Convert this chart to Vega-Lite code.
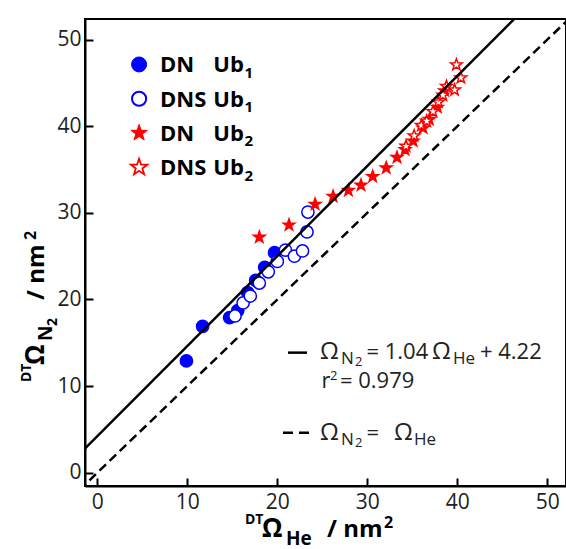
{
  "$schema": "https://vega.github.io/schema/vega-lite/v6.json",
  "width": 481,
  "height": 467,
  "autosize": {"type": "none"},
  "padding": {"left": 85, "top": 19, "right": 0, "bottom": 63},
  "background": "white",
  "config": {
    "view": {"stroke": "black", "strokeWidth": 2},
    "axis": {
      "domainColor": "black",
      "domainWidth": 2,
      "tickColor": "black",
      "tickWidth": 2,
      "tickSize": -8,
      "labelFont": "Open Sans",
      "labelFontSize": 21,
      "labelColor": "#222",
      "grid": false
    },
    "axisX": {"labelPadding": 13},
    "axisY": {"labelPadding": 12}
  },
  "layer": [
    {
      "data": {
        "values": [
          {"series": "DN Ub1", "he": 9.9, "n2": 12.9},
          {"series": "DN Ub1", "he": 11.7, "n2": 16.9},
          {"series": "DN Ub1", "he": 14.7, "n2": 17.9},
          {"series": "DN Ub1", "he": 15.6, "n2": 18.7},
          {"series": "DN Ub1", "he": 16.7, "n2": 20.8},
          {"series": "DN Ub1", "he": 17.6, "n2": 22.2},
          {"series": "DN Ub1", "he": 18.6, "n2": 23.7},
          {"series": "DN Ub1", "he": 19.7, "n2": 25.4},
          {"series": "DNS Ub1", "he": 15.3, "n2": 18.1},
          {"series": "DNS Ub1", "he": 16.2, "n2": 19.6},
          {"series": "DNS Ub1", "he": 17.0, "n2": 20.4},
          {"series": "DNS Ub1", "he": 18.0, "n2": 21.9},
          {"series": "DNS Ub1", "he": 19.0, "n2": 23.2},
          {"series": "DNS Ub1", "he": 20.0, "n2": 24.4},
          {"series": "DNS Ub1", "he": 20.9, "n2": 25.7},
          {"series": "DNS Ub1", "he": 21.9, "n2": 25.0},
          {"series": "DNS Ub1", "he": 22.8, "n2": 25.6},
          {"series": "DNS Ub1", "he": 23.3, "n2": 27.8},
          {"series": "DNS Ub1", "he": 23.4, "n2": 30.1},
          {"series": "DN Ub2", "he": 18.0, "n2": 27.2},
          {"series": "DN Ub2", "he": 21.3, "n2": 28.6},
          {"series": "DN Ub2", "he": 24.2, "n2": 31.0},
          {"series": "DN Ub2", "he": 26.2, "n2": 31.9},
          {"series": "DN Ub2", "he": 27.9, "n2": 32.6},
          {"series": "DN Ub2", "he": 29.3, "n2": 33.2},
          {"series": "DN Ub2", "he": 30.6, "n2": 34.2},
          {"series": "DN Ub2", "he": 32.1, "n2": 35.2},
          {"series": "DN Ub2", "he": 33.3, "n2": 36.4},
          {"series": "DN Ub2", "he": 34.2, "n2": 37.3},
          {"series": "DN Ub2", "he": 35.1, "n2": 38.3},
          {"series": "DN Ub2", "he": 36.2, "n2": 39.8},
          {"series": "DN Ub2", "he": 36.9, "n2": 40.8},
          {"series": "DN Ub2", "he": 37.8, "n2": 42.2},
          {"series": "DN Ub2", "he": 38.6, "n2": 44.1},
          {"series": "DNS Ub2", "he": 34.3, "n2": 37.7},
          {"series": "DNS Ub2", "he": 35.2, "n2": 38.9},
          {"series": "DNS Ub2", "he": 36.0, "n2": 40.1},
          {"series": "DNS Ub2", "he": 36.6, "n2": 40.6},
          {"series": "DNS Ub2", "he": 37.3, "n2": 41.7},
          {"series": "DNS Ub2", "he": 37.9, "n2": 42.8},
          {"series": "DNS Ub2", "he": 38.4, "n2": 43.6},
          {"series": "DNS Ub2", "he": 38.8, "n2": 44.6},
          {"series": "DNS Ub2", "he": 39.7, "n2": 44.2},
          {"series": "DNS Ub2", "he": 40.4, "n2": 45.6},
          {"series": "DNS Ub2", "he": 39.9, "n2": 47.1}
        ]
      },
      "mark": {"type": "point", "filled": true, "opacity": 1, "strokeWidth": 1.5},
      "encoding": {
        "x": {"field": "he", "type": "quantitative", "title": null, "scale": {"domain": [-1.37, 52.08], "nice": false, "zero": false}, "axis": {"values": [0, 10, 20, 30, 40, 50], "title": null}},
        "y": {"field": "n2", "type": "quantitative", "title": null, "scale": {"domain": [-1.54, 52.39], "nice": false, "zero": false}, "axis": {"values": [0, 10, 20, 30, 40, 50], "title": null}},
        "shape": {"field": "series", "type": "nominal", "legend": null, "scale": {"domain": ["DN Ub1", "DNS Ub1", "DN Ub2", "DNS Ub2"], "range": ["circle", "circle", "M0,-1L0.235,-0.324L0.951,-0.309L0.38,0.124L0.588,0.809L0,0.4L-0.588,0.809L-0.38,0.124L-0.951,-0.309L-0.235,-0.324Z", "M0,-1L0.235,-0.324L0.951,-0.309L0.38,0.124L0.588,0.809L0,0.4L-0.588,0.809L-0.38,0.124L-0.951,-0.309L-0.235,-0.324Z"]}},
        "fill": {"field": "series", "type": "nominal", "legend": null, "scale": {"domain": ["DN Ub1", "DNS Ub1", "DN Ub2", "DNS Ub2"], "range": ["#0000ff", "#ffffff", "#ff0000", "#ffffff"]}},
        "stroke": {"field": "series", "type": "nominal", "legend": null, "scale": {"domain": ["DN Ub1", "DNS Ub1", "DN Ub2", "DNS Ub2"], "range": ["#0000ff", "#0000ff", "#ff0000", "#ff0000"]}},
        "size": {"field": "series", "type": "nominal", "legend": null, "scale": {"domain": ["DN Ub1", "DNS Ub1", "DN Ub2", "DNS Ub2"], "range": [150, 150, 260, 260]}}
      }
    },
    {
      "data": {"values": [{"he": -2, "n2": 2.14}, {"he": 52, "n2": 58.3}]},
      "mark": {"type": "line", "color": "black", "strokeWidth": 2.5, "clip": true},
      "encoding": {
        "x": {"field": "he", "type": "quantitative", "title": null},
        "y": {"field": "n2", "type": "quantitative", "title": null}
      }
    },
    {
      "data": {"values": [{"he": -2, "n2": -2}, {"he": 53, "n2": 53}]},
      "mark": {"type": "line", "color": "black", "strokeWidth": 2.5, "strokeDash": [9, 5], "clip": true},
      "encoding": {
        "x": {"field": "he", "type": "quantitative", "title": null},
        "y": {"field": "n2", "type": "quantitative", "title": null}
      }
    },
    {
      "data": {"values": [{}]},
      "mark": {"type": "point", "shape": "circle", "filled": true, "fill": "#0000ff", "stroke": "#0000ff", "strokeWidth": 1, "size": 225, "opacity": 1},
      "encoding": {"x": {"datum": 4.64, "type": "quantitative"}, "y": {"datum": 47.14, "type": "quantitative"}}
    },
    {
      "data": {"values": [{}]},
      "mark": {"type": "point", "shape": "circle", "filled": true, "fill": "#ffffff", "stroke": "#0000ff", "strokeWidth": 2, "size": 200, "opacity": 1},
      "encoding": {"x": {"datum": 4.64, "type": "quantitative"}, "y": {"datum": 43.18, "type": "quantitative"}}
    },
    {
      "data": {"values": [{}]},
      "mark": {"type": "point", "shape": "M0,-1L0.235,-0.324L0.951,-0.309L0.38,0.124L0.588,0.809L0,0.4L-0.588,0.809L-0.38,0.124L-0.951,-0.309L-0.235,-0.324Z", "filled": true, "fill": "#ff0000", "stroke": "#ff0000", "strokeWidth": 1, "size": 300, "opacity": 1},
      "encoding": {"x": {"datum": 4.64, "type": "quantitative"}, "y": {"datum": 39.22, "type": "quantitative"}}
    },
    {
      "data": {"values": [{}]},
      "mark": {"type": "point", "shape": "M0,-1L0.235,-0.324L0.951,-0.309L0.38,0.124L0.588,0.809L0,0.4L-0.588,0.809L-0.38,0.124L-0.951,-0.309L-0.235,-0.324Z", "filled": true, "fill": "#ffffff", "stroke": "#ff0000", "strokeWidth": 1.8, "size": 300, "opacity": 1},
      "encoding": {"x": {"datum": 4.64, "type": "quantitative"}, "y": {"datum": 35.26, "type": "quantitative"}}
    },
    {
      "data": {"values": [{}]},
      "mark": {"type": "text", "text": ["DN", "DNS", "DN", "DNS"], "lineHeight": 34.3, "font": "Open Sans", "fontWeight": "bold", "fontSize": 22, "align": "left", "baseline": "alphabetic", "color": "black"},
      "encoding": {"x": {"datum": 6.97, "type": "quantitative"}, "y": {"datum": 46.24, "type": "quantitative"}}
    },
    {
      "data": {"values": [{}]},
      "mark": {"type": "text", "text": ["Ub", "Ub", "Ub", "Ub"], "lineHeight": 34.3, "font": "Open Sans", "fontWeight": "bold", "fontSize": 22, "align": "left", "baseline": "alphabetic", "dx": 53.3, "color": "black"},
      "encoding": {"x": {"datum": 6.97, "type": "quantitative"}, "y": {"datum": 46.24, "type": "quantitative"}}
    },
    {
      "data": {"values": [{}]},
      "mark": {"type": "text", "text": ["1", "1", "2", "2"], "lineHeight": 34.3, "font": "Open Sans", "fontWeight": "bold", "fontSize": 15, "align": "left", "baseline": "alphabetic", "dx": 84.5, "dy": 5.4, "color": "black"},
      "encoding": {"x": {"datum": 6.97, "type": "quantitative"}, "y": {"datum": 46.24, "type": "quantitative"}}
    },
    {
      "data": {"values": [{}]},
      "mark": {"type": "rule", "color": "black", "strokeWidth": 2.5},
      "encoding": {"x": {"datum": 21.19, "type": "quantitative"}, "x2": {"datum": 23.3}, "y": {"datum": 13.86, "type": "quantitative"}}
    },
    {
      "data": {"values": [{}]},
      "mark": {"type": "rule", "color": "black", "strokeWidth": 2.5, "strokeDash": [10, 6]},
      "encoding": {"x": {"datum": 20.63, "type": "quantitative"}, "x2": {"datum": 23.85}, "y": {"datum": 4.62, "type": "quantitative"}}
    },
    {"data": {"values": [{}]}, "mark": {"type": "text", "text": "Ω", "font": "Open Sans", "fontSize": 24, "align": "left", "baseline": "alphabetic", "dx": 0, "dy": 0, "color": "#222"}, "encoding": {"x": {"datum": 24.74, "type": "quantitative"}, "y": {"datum": 13.13, "type": "quantitative"}}},
    {"data": {"values": [{}]}, "mark": {"type": "text", "text": "N", "font": "Open Sans", "fontSize": 17, "align": "left", "baseline": "alphabetic", "dx": 21, "dy": 5, "color": "#222"}, "encoding": {"x": {"datum": 24.74, "type": "quantitative"}, "y": {"datum": 13.13, "type": "quantitative"}}},
    {"data": {"values": [{}]}, "mark": {"type": "text", "text": "2", "font": "Open Sans", "fontSize": 13, "align": "left", "baseline": "alphabetic", "dx": 35, "dy": 7, "color": "#222"}, "encoding": {"x": {"datum": 24.74, "type": "quantitative"}, "y": {"datum": 13.13, "type": "quantitative"}}},
    {"data": {"values": [{}]}, "mark": {"type": "text", "text": "= 1.04", "font": "Open Sans", "fontSize": 22, "align": "left", "baseline": "alphabetic", "dx": 46.5, "dy": 0, "color": "#222"}, "encoding": {"x": {"datum": 24.74, "type": "quantitative"}, "y": {"datum": 13.13, "type": "quantitative"}}},
    {"data": {"values": [{}]}, "mark": {"type": "text", "text": "Ω", "font": "Open Sans", "fontSize": 24, "align": "left", "baseline": "alphabetic", "dx": 112, "dy": 0, "color": "#222"}, "encoding": {"x": {"datum": 24.74, "type": "quantitative"}, "y": {"datum": 13.13, "type": "quantitative"}}},
    {"data": {"values": [{}]}, "mark": {"type": "text", "text": "He", "font": "Open Sans", "fontSize": 17, "align": "left", "baseline": "alphabetic", "dx": 133, "dy": 5, "color": "#222"}, "encoding": {"x": {"datum": 24.74, "type": "quantitative"}, "y": {"datum": 13.13, "type": "quantitative"}}},
    {"data": {"values": [{}]}, "mark": {"type": "text", "text": "+ 4.22", "font": "Open Sans", "fontSize": 22, "align": "left", "baseline": "alphabetic", "dx": 160, "dy": 0, "color": "#222"}, "encoding": {"x": {"datum": 24.74, "type": "quantitative"}, "y": {"datum": 13.13, "type": "quantitative"}}},
    {"data": {"values": [{}]}, "mark": {"type": "text", "text": "r", "font": "Open Sans", "fontSize": 22, "align": "left", "baseline": "alphabetic", "dx": 1.5, "dy": 0, "color": "#222"}, "encoding": {"x": {"datum": 24.74, "type": "quantitative"}, "y": {"datum": 9.78, "type": "quantitative"}}},
    {"data": {"values": [{}]}, "mark": {"type": "text", "text": "2", "font": "Open Sans", "fontSize": 13, "align": "left", "baseline": "alphabetic", "dx": 10, "dy": -8, "color": "#222"}, "encoding": {"x": {"datum": 24.74, "type": "quantitative"}, "y": {"datum": 9.78, "type": "quantitative"}}},
    {"data": {"values": [{}]}, "mark": {"type": "text", "text": "= 0.979", "font": "Open Sans", "fontSize": 22, "align": "left", "baseline": "alphabetic", "dx": 20, "dy": 0, "color": "#222"}, "encoding": {"x": {"datum": 24.74, "type": "quantitative"}, "y": {"datum": 9.78, "type": "quantitative"}}},
    {"data": {"values": [{}]}, "mark": {"type": "text", "text": "Ω", "font": "Open Sans", "fontSize": 24, "align": "left", "baseline": "alphabetic", "dx": 0, "dy": 0, "color": "#222"}, "encoding": {"x": {"datum": 24.74, "type": "quantitative"}, "y": {"datum": 3.78, "type": "quantitative"}}},
    {"data": {"values": [{}]}, "mark": {"type": "text", "text": "N", "font": "Open Sans", "fontSize": 17, "align": "left", "baseline": "alphabetic", "dx": 21, "dy": 5, "color": "#222"}, "encoding": {"x": {"datum": 24.74, "type": "quantitative"}, "y": {"datum": 3.78, "type": "quantitative"}}},
    {"data": {"values": [{}]}, "mark": {"type": "text", "text": "2", "font": "Open Sans", "fontSize": 13, "align": "left", "baseline": "alphabetic", "dx": 35, "dy": 7, "color": "#222"}, "encoding": {"x": {"datum": 24.74, "type": "quantitative"}, "y": {"datum": 3.78, "type": "quantitative"}}},
    {"data": {"values": [{}]}, "mark": {"type": "text", "text": "=", "font": "Open Sans", "fontSize": 22, "align": "left", "baseline": "alphabetic", "dx": 46.5, "dy": 0, "color": "#222"}, "encoding": {"x": {"datum": 24.74, "type": "quantitative"}, "y": {"datum": 3.78, "type": "quantitative"}}},
    {"data": {"values": [{}]}, "mark": {"type": "text", "text": "Ω", "font": "Open Sans", "fontSize": 24, "align": "left", "baseline": "alphabetic", "dx": 74, "dy": 0, "color": "#222"}, "encoding": {"x": {"datum": 24.74, "type": "quantitative"}, "y": {"datum": 3.78, "type": "quantitative"}}},
    {"data": {"values": [{}]}, "mark": {"type": "text", "text": "He", "font": "Open Sans", "fontSize": 17, "align": "left", "baseline": "alphabetic", "dx": 94, "dy": 5, "color": "#222"}, "encoding": {"x": {"datum": 24.74, "type": "quantitative"}, "y": {"datum": 3.78, "type": "quantitative"}}},
    {"data": {"values": [{}]}, "mark": {"type": "text", "text": "DT", "font": "Open Sans", "fontWeight": "bold", "fontSize": 14, "align": "left", "baseline": "alphabetic", "dx": 0, "dy": 38, "color": "black"}, "encoding": {"x": {"datum": 16.41, "type": "quantitative"}, "y": {"datum": -1.54, "type": "quantitative"}}},
    {"data": {"values": [{}]}, "mark": {"type": "text", "text": "Ω", "font": "Open Sans", "fontWeight": "bold", "fontSize": 26, "align": "left", "baseline": "alphabetic", "dx": 17, "dy": 50.7, "color": "black"}, "encoding": {"x": {"datum": 16.41, "type": "quantitative"}, "y": {"datum": -1.54, "type": "quantitative"}}},
    {"data": {"values": [{}]}, "mark": {"type": "text", "text": "He", "font": "Open Sans", "fontWeight": "bold", "fontSize": 19, "align": "left", "baseline": "alphabetic", "dx": 41, "dy": 59, "color": "black"}, "encoding": {"x": {"datum": 16.41, "type": "quantitative"}, "y": {"datum": -1.54, "type": "quantitative"}}},
    {"data": {"values": [{}]}, "mark": {"type": "text", "text": "/ nm", "font": "Open Sans", "fontWeight": "bold", "fontSize": 24, "align": "left", "baseline": "alphabetic", "dx": 82, "dy": 50.7, "color": "black"}, "encoding": {"x": {"datum": 16.41, "type": "quantitative"}, "y": {"datum": -1.54, "type": "quantitative"}}},
    {"data": {"values": [{}]}, "mark": {"type": "text", "text": "2", "font": "Open Sans", "fontWeight": "bold", "fontSize": 16, "align": "left", "baseline": "alphabetic", "dx": 139, "dy": 42.3, "color": "black"}, "encoding": {"x": {"datum": 16.41, "type": "quantitative"}, "y": {"datum": -1.54, "type": "quantitative"}}},
    {"data": {"values": [{}]}, "mark": {"type": "text", "text": "DT", "font": "Open Sans", "fontWeight": "bold", "fontSize": 14, "align": "left", "baseline": "alphabetic", "angle": 270, "dx": 0, "dy": -54, "color": "black"}, "encoding": {"x": {"datum": -1.37, "type": "quantitative"}, "y": {"datum": 10.47, "type": "quantitative"}}},
    {"data": {"values": [{}]}, "mark": {"type": "text", "text": "Ω", "font": "Open Sans", "fontWeight": "bold", "fontSize": 26, "align": "left", "baseline": "alphabetic", "angle": 270, "dx": 17, "dy": -41, "color": "black"}, "encoding": {"x": {"datum": -1.37, "type": "quantitative"}, "y": {"datum": 10.47, "type": "quantitative"}}},
    {"data": {"values": [{}]}, "mark": {"type": "text", "text": "N", "font": "Open Sans", "fontWeight": "bold", "fontSize": 19, "align": "left", "baseline": "alphabetic", "angle": 270, "dx": 41, "dy": -33, "color": "black"}, "encoding": {"x": {"datum": -1.37, "type": "quantitative"}, "y": {"datum": 10.47, "type": "quantitative"}}},
    {"data": {"values": [{}]}, "mark": {"type": "text", "text": "2", "font": "Open Sans", "fontWeight": "bold", "fontSize": 14, "align": "left", "baseline": "alphabetic", "angle": 270, "dx": 56, "dy": -28, "color": "black"}, "encoding": {"x": {"datum": -1.37, "type": "quantitative"}, "y": {"datum": 10.47, "type": "quantitative"}}},
    {"data": {"values": [{}]}, "mark": {"type": "text", "text": "/ nm", "font": "Open Sans", "fontWeight": "bold", "fontSize": 24, "align": "left", "baseline": "alphabetic", "angle": 270, "dx": 82, "dy": -41, "color": "black"}, "encoding": {"x": {"datum": -1.37, "type": "quantitative"}, "y": {"datum": 10.47, "type": "quantitative"}}},
    {"data": {"values": [{}]}, "mark": {"type": "text", "text": "2", "font": "Open Sans", "fontWeight": "bold", "fontSize": 16, "align": "left", "baseline": "alphabetic", "angle": 270, "dx": 142, "dy": -49.5, "color": "black"}, "encoding": {"x": {"datum": -1.37, "type": "quantitative"}, "y": {"datum": 10.47, "type": "quantitative"}}}
  ]
}
